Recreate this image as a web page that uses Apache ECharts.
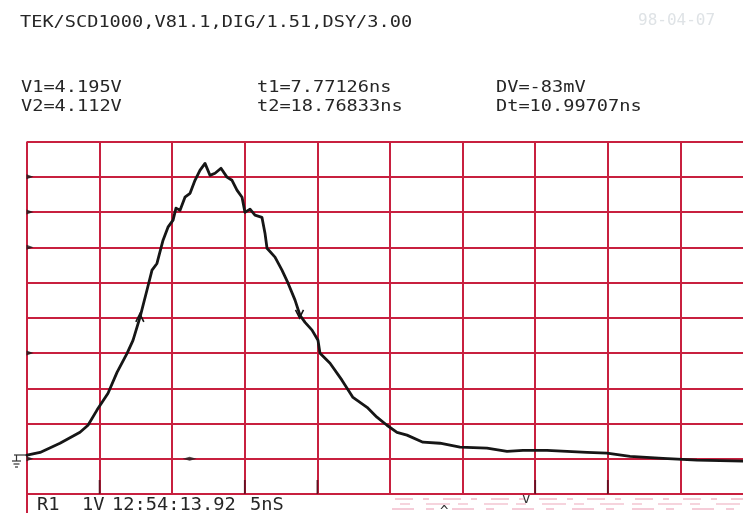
<!DOCTYPE html>
<html><head><meta charset="utf-8">
<script src="https://cdn.jsdelivr.net/npm/echarts@6/dist/echarts.min.js"></script>
<style>html,body{margin:0;padding:0;background:#ffffff;overflow:hidden;width:743px;height:513px}#c{width:753px;height:513px}</style>
</head><body><div id="c"></div>
<script>
// ---- data ----
const timeNs = [0.00,0.90,2.27,3.65,4.20,4.82,5.58,6.20,6.89,7.30,7.78,8.26,8.61,8.95,9.37,9.71,10.06,10.26,10.54,10.88,11.23,11.57,11.91,12.26,12.60,12.95,13.36,13.77,14.12,14.46,14.81,15.01,15.36,15.70,16.18,16.39,16.53,17.08,17.56,17.98,18.46,18.80,19.15,19.63,20.04,20.18,20.87,21.69,22.45,23.42,24.10,24.79,25.48,26.17,27.27,28.44,29.82,31.68,33.06,34.16,35.81,38.57,39.94,41.53,43.80,46.14,49.31,50.00];
const volts = [0.10,0.18,0.44,0.75,0.95,1.38,1.86,2.45,2.99,3.36,4.01,4.78,5.35,5.54,6.20,6.57,6.77,7.11,7.05,7.42,7.53,7.90,8.18,8.38,8.04,8.10,8.24,7.99,7.90,7.62,7.42,6.99,7.08,6.91,6.85,6.40,5.97,5.72,5.35,4.98,4.50,4.07,3.87,3.65,3.36,2.99,2.71,2.23,1.74,1.46,1.18,0.95,0.75,0.67,0.47,0.44,0.33,0.30,0.21,0.24,0.24,0.18,0.16,0.07,0.01,-0.04,-0.07,-0.08];
const cursorT = [7.77126, 18.76833];
const edgeMarksV = [8, 7, 6, 3, 0];
const bottomTicksT = [5, 15, 20, 35, 40];
const groundMarkT = [11.2];
const headerText = 'TEK/SCD1000,V81.1,DIG/1.51,DSY/3.00';
const readoutV = ['V1=4.195V', 'V2=4.112V'];
const readoutT = ['t1=7.77126ns', 't2=18.76833ns'];
const readoutD = ['DV=-83mV', 'Dt=10.99707ns'];
const footerParts = ['R1', '1V', '12:54:13.92', '5nS'];
const dateStamp = '98-04-07';

// ---- helpers ----
function interp(t) {
  for (let i = 1; i < timeNs.length; i++) {
    if (t <= timeNs[i]) {
      const f = (t - timeNs[i-1]) / (timeNs[i] - timeNs[i-1]);
      return volts[i-1] + f * (volts[i] - volts[i-1]);
    }
  }
  return volts[volts.length - 1];
}
const GRID = '#c8203f';
const INK = '#161616';
const FONT = '"DejaVu Sans Mono", monospace';
function txt(s, x, y, size, sx, color) {
  return { type: 'text', x: x, y: y, scaleX: sx, silent: true,
    style: { text: s, x: 0, y: 0, font: size + 'px ' + FONT, fill: color || '#262626',
      align: 'left', verticalAlign: 'middle' } };
}
function ln(x1, y1, x2, y2, color, w, dash) {
  return { type: 'line', silent: true, shape: { x1, y1, x2, y2 },
    style: { stroke: color, lineWidth: w, lineDash: dash || null } };
}

const chart = echarts.init(document.getElementById('c'), null, { renderer: 'canvas' });
const SX = 1.163;
const graphics = [
  txt(headerText, 20, 23, 16, SX),
  txt(readoutV[0], 21, 88, 16, SX), txt(readoutV[1], 21, 107, 16, SX),
  txt(readoutT[0], 257, 88, 16, SX), txt(readoutT[1], 257, 107, 16, SX),
  txt(readoutD[0], 496, 88, 16, SX), txt(readoutD[1], 496, 107, 16, SX),
  txt(dateStamp, 638, 21, 16, 1.0, '#dfe3e6'),
  txt(footerParts[0], 37, 506, 17, 1.1),
  txt(footerParts[1], 82, 506, 17, 1.1),
  txt(footerParts[2], 112, 506, 17, 1.1),
  txt(footerParts[3], 250, 506, 17, 1.1),
  // left border continues below the grid
  ln(27, 494, 27, 513, GRID, 2),
  // ground symbol
  ln(14, 455, 28, 455, '#333', 1.2),
  ln(16.5, 455, 16.5, 461, '#333', 1.2),
  ln(12, 461, 21, 461, '#333', 1.2),
  ln(13.5, 464, 19.5, 464, '#333', 1.2),
  ln(15, 467, 18, 467, '#333', 1.2),
  // faint pink scan streaks bottom-right
  ln(395, 499, 743, 499, '#f2b9c8', 1.5, [18, 10, 6, 14]),
  ln(400, 504, 743, 504, '#f4c6d2', 1.5, [10, 16, 24, 8]),
  ln(392, 509, 743, 509, '#f2bccb', 1.5, [22, 12, 8, 18]),
  txt('v', 522, 499, 14, 1.0, '#333'),
  txt('^', 440, 512, 14, 1.0, '#333')
];

chart.setOption({
  backgroundColor: '#ffffff',
  animation: false,
  grid: { left: 27, top: 141.5, right: 0, bottom: 19, containLabel: false },
  xAxis: { type: 'value', min: 0, max: 50, interval: 5,
    axisLine: { show: false }, axisTick: { show: false }, axisLabel: { show: false },
    splitLine: { show: true, lineStyle: { color: GRID, width: 2 } } },
  yAxis: { type: 'value', min: -1, max: 9, interval: 1,
    axisLine: { show: false }, axisTick: { show: false }, axisLabel: { show: false },
    splitLine: { show: true, lineStyle: { color: GRID, width: 2 } } },
  series: [
    { type: 'line', data: timeNs.map((t, i) => [t, volts[i]]), showSymbol: false,
      lineStyle: { color: INK, width: 2.8, join: 'round', cap: 'round' }, z: 5, clip: true,
      markPoint: { silent: true, label: { show: false },
        data: [
          { coord: [cursorT[0], interp(cursorT[0])], symbol: 'path://M0,10 L5,0 L10,10', symbolSize: [8, 8],
            itemStyle: { color: 'none', borderColor: INK, borderWidth: 1.6 } },
          { coord: [cursorT[1], interp(cursorT[1])], symbol: 'path://M0,0 L5,10 L10,0', symbolSize: [8, 8],
            itemStyle: { color: 'none', borderColor: INK, borderWidth: 1.6 } }
        ] } },
    { type: 'scatter', data: edgeMarksV.map(v => [0, v]), symbol: 'triangle', symbolRotate: -90,
      symbolSize: [5, 7], symbolOffset: [3, 0], itemStyle: { color: '#1a1a1a' }, z: 6, silent: true },
    { type: 'scatter', data: bottomTicksT.map(t => [t, -1]), symbol: 'rect',
      symbolSize: [1.8, 14], symbolOffset: [0, -7], itemStyle: { color: '#4a0c1a' }, z: 6, silent: true },
    { type: 'scatter', data: groundMarkT.map(t => [t, 0]), symbol: 'diamond',
      symbolSize: [14, 4], itemStyle: { color: '#222' }, z: 6, silent: true }
  ],
  graphic: graphics
});
</script>
</body></html>
